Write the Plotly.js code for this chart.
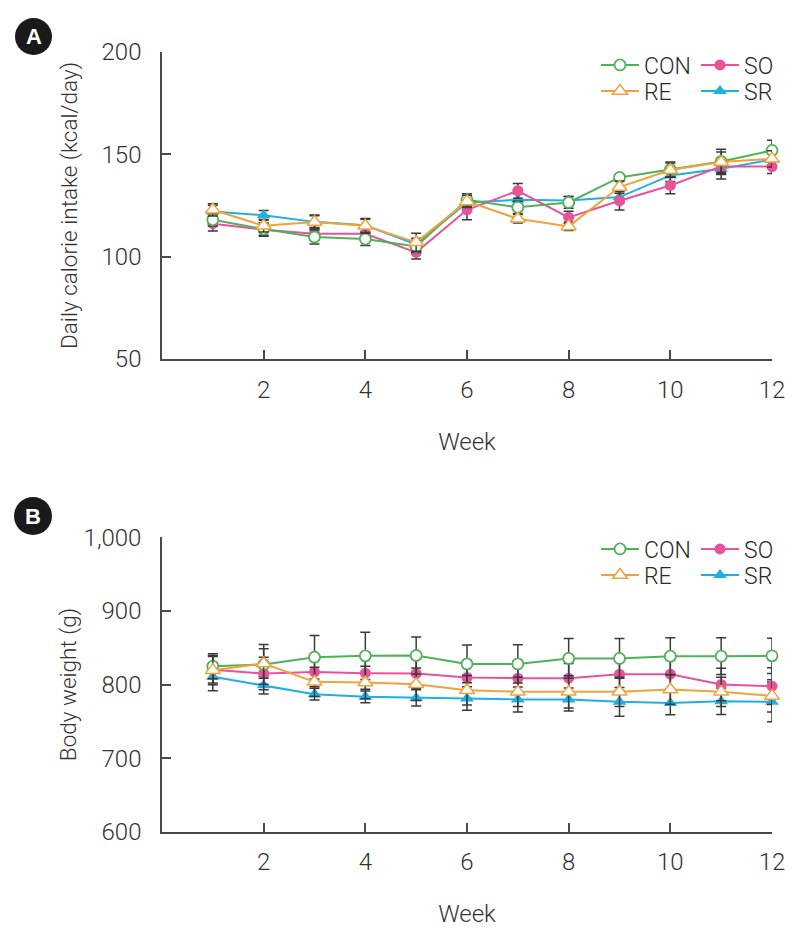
<!DOCTYPE html>
<html>
<head>
<meta charset="utf-8">
<script src="https://cdn.plot.ly/plotly-3.0.1.min.js"></script>
<style>html,body{margin:0;padding:0;background:#fff;} #chart{width:797px;height:940px;}</style>
</head>
<body>
<div id="chart"></div>
<script>
// ---- Data ----
const weeks = [1, 2, 3, 4, 5, 6, 7, 8, 9, 10, 11, 12];
const seriesNames = ["CON", "RE", "SO", "SR"];

// Panel A: daily calorie intake (kcal/day), mean and error
const conIntake = [118.0, 113.5, 109.6, 108.6, 105.0, 127.8, 124.1, 126.5, 138.7, 142.6, 146.5, 151.9];
const reIntake  = [122.9, 115.1, 116.9, 115.1, 107.0, 127.0, 118.5, 114.8, 134.0, 142.3, 146.2, 147.8];
const soIntake  = [116.1, 113.2, 111.2, 111.2, 102.1, 122.9, 132.2, 119.2, 127.3, 134.8, 144.1, 144.0];
const srIntake  = [122.1, 120.2, 117.0, 115.3, 106.0, 126.5, 127.8, 127.5, 129.1, 139.7, 142.9, 147.5];
const conIntakeErr = [3.0, 3.0, 3.4, 3.2, 3.0, 3.0, 3.0, 2.9, 1.5, 3.7, 6.0, 5.0];
const reIntakeErr  = [3.0, 3.0, 3.4, 3.6, 4.4, 3.0, 2.1, 2.0, 3.0, 3.5, 5.0, 4.0];
const soIntakeErr  = [3.6, 3.2, 3.0, 3.0, 3.3, 4.9, 3.6, 3.0, 4.5, 4.1, 4.0, 3.4];
const srIntakeErr  = [3.0, 2.4, 3.0, 3.0, 3.0, 3.0, 3.0, 1.9, 3.0, 3.0, 5.0, 4.0];

// Panel B: body weight (g), mean and error
const conWeight = [824.9, 827.2, 837.1, 838.9, 839.4, 828.0, 828.0, 835.4, 835.4, 838.5, 838.5, 838.9];
const reWeight  = [819.5, 828.5, 803.6, 802.7, 800.4, 792.2, 790.0, 790.0, 790.0, 793.2, 790.0, 784.5];
const soWeight  = [820.0, 815.0, 817.1, 815.4, 815.0, 809.5, 808.6, 808.6, 814.0, 814.0, 800.0, 797.7];
const srWeight  = [810.4, 799.0, 786.8, 783.2, 781.8, 781.0, 779.6, 779.6, 776.4, 775.0, 777.3, 776.4];
const conWeightErr = [17, 27, 29.6, 32, 25, 25.5, 26, 27, 27, 25, 25, 24];
const reWeightErr  = [20, 20, 20, 22, 22, 20, 20, 22, 20, 20, 20, 22];
const soWeightErr  = [18, 22, 20, 22, 20, 18, 20, 20, 22, 20, 22, 25];
const srWeightErr  = [19, 12, 8, 8, 11, 16, 17, 15.6, 19.5, 16, 18, 27];

// Axis ticks
const xTicks = [2, 4, 6, 8, 10, 12];
const yTicksA = [50, 100, 150, 200];
const yTicksB = [600, 700, 800, 900, 1000];

// ---- Styles ----
const FONT = 'Roboto, "DejaVu Sans Condensed", sans-serif';
const colors = {CON: "#4fb257", RE: "#f2a23a", SO: "#e8529a", SR: "#1fafe2"};
const markers = {
  CON: {symbol: "circle", size: 11, color: "#ffffff", line: {color: colors.CON, width: 1.8}},
  RE:  {symbol: "triangle-up", size: 13, color: "#ffffff", line: {color: colors.RE, width: 1.5}},
  SO:  {symbol: "circle", size: 11, color: colors.SO, line: {color: colors.SO, width: 0}},
  SR:  {symbol: "triangle-up", size: 12, color: colors.SR, line: {color: colors.SR, width: 0}}
};

const dataA = {CON: [conIntake, conIntakeErr], RE: [reIntake, reIntakeErr], SO: [soIntake, soIntakeErr], SR: [srIntake, srIntakeErr]};
const dataB = {CON: [conWeight, conWeightErr], RE: [reWeight, reWeightErr], SO: [soWeight, soWeightErr], SR: [srWeight, srWeightErr]};

// legend slot per series: [panel A legend, panel B legend]
const legendSlot = {CON: ["legend", "legend5"], SO: ["legend2", "legend6"], RE: ["legend3", "legend7"], SR: ["legend4", "legend8"]};

const drawOrder = ["SR", "SO", "CON", "RE"];
const traces = [];
[[dataA, "x", "y", 0], [dataB, "x2", "y2", 1]].forEach(([d, xa, ya, pi]) => {
  drawOrder.forEach(name => {
    traces.push({
      type: "scatter", mode: "lines+markers", name: name,
      x: weeks, y: d[name][0],
      xaxis: xa, yaxis: ya,
      line: {color: colors[name], width: 2},
      marker: markers[name],
      error_y: {type: "data", array: d[name][1], visible: true, color: "#3a3a3a", thickness: 1.5, width: 5},
      cliponaxis: false,
      legend: legendSlot[name][pi],
      hoverinfo: "x+y+name"
    });
  });
});

const W = 797, H = 940;
const px = v => v / W, py = v => 1 - v / H;

const axisCommon = {
  showline: true, linecolor: "#4a4a4a", linewidth: 1.5,
  ticks: "inside", ticklen: 9, tickwidth: 1.5, tickcolor: "#4a4a4a",
  showgrid: false, zeroline: false, mirror: false,
  tickfont: {family: FONT, size: 24, color: "#333333", weight: 300},
  fixedrange: true
};
const titleFont = {family: FONT, size: 22.5, color: "#333333", weight: 300};
const xTitleFont = {family: FONT, size: 24, color: "#333333", weight: 300};

function legendAt(xPix, yPix) {
  return {x: px(xPix), y: py(yPix), xanchor: "left", yanchor: "middle",
    bgcolor: "rgba(0,0,0,0)", borderwidth: 0, itemwidth: 38,
    font: {family: FONT, size: 23, color: "#2a2a2a", weight: 300}, itemclick: false, itemdoubleclick: false};
}

const layout = {
  width: W, height: H,
  margin: {l: 0, r: 0, t: 0, b: 0},
  paper_bgcolor: "#ffffff", plot_bgcolor: "#ffffff",
  font: {family: FONT, color: "#333333"},
  showlegend: true,
  xaxis: Object.assign({}, axisCommon, {domain: [px(162), px(772)], range: [0, 12], tickvals: xTicks, anchor: "y",
    ticklabelstandoff: 8,
    title: {text: "Week", font: xTitleFont, standoff: 31}}),
  yaxis: Object.assign({}, axisCommon, {domain: [py(359), py(52)], range: [50, 200], tickvals: yTicksA, anchor: "x",
    ticklabelstandoff: 14,
    title: {text: "Daily calorie intake (kcal/day)", font: titleFont, standoff: 18}}),
  xaxis2: Object.assign({}, axisCommon, {domain: [px(162), px(772)], range: [0, 12], tickvals: xTicks, anchor: "y2",
    ticklabelstandoff: 8,
    title: {text: "Week", font: xTitleFont, standoff: 30}}),
  yaxis2: Object.assign({}, axisCommon, {domain: [py(831.7), py(537.3)], range: [600, 1000], tickvals: yTicksB, tickformat: ",", anchor: "x2",
    ticklabelstandoff: 14,
    title: {text: "Body weight (g)", font: titleFont, standoff: 1}}),
  legend: legendAt(596, 65),
  legend2: legendAt(696, 65),
  legend3: legendAt(596, 91),
  legend4: legendAt(696, 91),
  legend5: legendAt(596, 549),
  legend6: legendAt(696, 549),
  legend7: legendAt(596, 575),
  legend8: legendAt(696, 575),
  shapes: [
    {type: "circle", xref: "paper", yref: "paper", x0: px(15), x1: px(52), y0: py(55), y1: py(18), fillcolor: "#1a1a1a", line: {width: 0}},
    {type: "circle", xref: "paper", yref: "paper", x0: px(14), x1: px(52), y0: py(535), y1: py(497), fillcolor: "#1a1a1a", line: {width: 0}}
  ],
  annotations: [
    {text: "<b>A</b>", xref: "paper", yref: "paper", x: px(33.5), y: py(37), xanchor: "center", yanchor: "middle", showarrow: false,
      font: {family: '"Liberation Sans", Arial, sans-serif', size: 22, color: "#ffffff"}},
    {text: "<b>B</b>", xref: "paper", yref: "paper", x: px(33), y: py(516), xanchor: "center", yanchor: "middle", showarrow: false,
      font: {family: '"Liberation Sans", Arial, sans-serif', size: 22, color: "#ffffff"}}
  ]
};

Plotly.newPlot("chart", traces, layout, {displayModeBar: false, staticPlot: false});
</script>
</body>
</html>
